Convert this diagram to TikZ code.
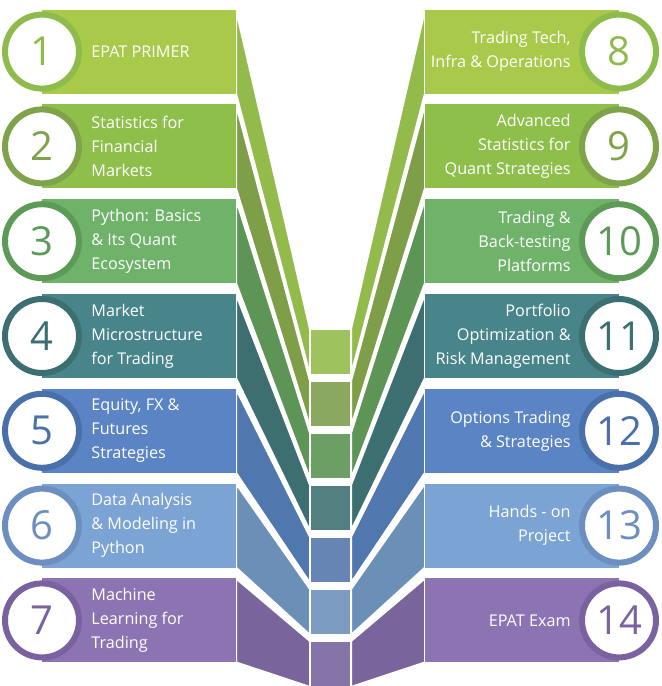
\documentclass[tikz,border=0pt]{standalone}
\usepackage{fontspec}
\setmainfont{Open Sans}
\definecolor{banA}{HTML}{A9C94A}\definecolor{rngA}{HTML}{8DBB4C}\definecolor{stpA}{HTML}{93BB4C}\definecolor{boxA}{HTML}{9DC25E}
\definecolor{banB}{HTML}{8FBF4B}\definecolor{rngB}{HTML}{7FA34A}\definecolor{stpB}{HTML}{7E9F48}\definecolor{boxB}{HTML}{8AA85F}
\definecolor{banC}{HTML}{6FB26A}\definecolor{rngC}{HTML}{5E9A57}\definecolor{stpC}{HTML}{5C9556}\definecolor{boxC}{HTML}{6B9F64}
\definecolor{banD}{HTML}{47858A}\definecolor{rngD}{HTML}{3C6F72}\definecolor{stpD}{HTML}{3D6E70}\definecolor{boxD}{HTML}{527F80}
\definecolor{banE}{HTML}{5A84C4}\definecolor{rngE}{HTML}{4A70AA}\definecolor{stpE}{HTML}{5077AE}\definecolor{boxE}{HTML}{6685B4}
\definecolor{banF}{HTML}{7BA3D4}\definecolor{rngF}{HTML}{6C8FBF}\definecolor{stpF}{HTML}{6C8FB8}\definecolor{boxF}{HTML}{7B9CC0}
\definecolor{banG}{HTML}{8C74B3}\definecolor{rngG}{HTML}{7A62A0}\definecolor{stpG}{HTML}{79649B}\definecolor{boxG}{HTML}{8574A8}

\begin{document}
\begin{tikzpicture}[x=0.5pt, y=-0.5pt,
    numring/.style={circle, fill=white, line width=3pt, minimum size=37pt, inner sep=0pt, font=\fontsize{20}{20}\selectfont},
    lbl/.style={text=white, font=\fontsize{8.1}{12}\selectfont, inner sep=0pt}]
  \useasboundingbox (0,0) rectangle (661,686);

  % strips and bottom boxes
  \foreach \i/\c in {7/G, 6/F, 5/E, 4/D, 3/C, 2/B, 1/A} {
    \pgfmathsetmacro\t{9.6+94.8*(\i-1)}
    \pgfmathsetmacro\b{\t+84}
    \pgfmathsetmacro\bt{329+52*(\i-1)}
    \pgfmathsetmacro\bb{\bt+46}
    \filldraw[fill=stp\c, draw=white, line width=1pt] (236,\t) -- (310,\bt) -- (310,\bb) -- (236,\b) -- cycle;
    \filldraw[fill=stp\c, draw=white, line width=1pt] (425,\t) -- (351,\bt) -- (351,\bb) -- (425,\b) -- cycle;
    \filldraw[fill=box\c, draw=white, line width=1pt] (310,\bt) rectangle (351,\bb);
  }

  % banners and number rings
  \foreach \i/\c in {1/A, 2/B, 3/C, 4/D, 5/E, 6/F, 7/G} {
    \pgfmathsetmacro\t{9.6+94.8*(\i-1)}
    \pgfmathsetmacro\m{\t+42}
    \fill[ban\c] (42,\t) rectangle (236,\t+84);
    \fill[ban\c] (425,\t) rectangle (619,\t+84);
    \node[numring, draw=rng\c, text=rng\c] (l\i) at (42,\m) {\i};
    \pgfmathtruncatemacro\r{\i+7}
    \node[numring, draw=rng\c, text=rng\c] (r\i) at (619,\m) {\r};
  }

  % left texts
  \node[lbl, anchor=west, align=left] (tl1) at (91,51.6) {EPAT PRIMER};
  \node[lbl, anchor=west, align=left] (tl2) at (91,146.4) {Statistics for\\Financial\\Markets};
  \node[lbl, anchor=west, align=left] (tl3) at (91,241.2) {Python: Basics\\\& Its Quant\\Ecosystem};
  \node[lbl, anchor=west, align=left] (tl4) at (91,336) {Market\\Microstructure\\for Trading};
  \node[lbl, anchor=west, align=left] (tl5) at (91,430.8) {Equity, FX \&\\Futures\\Strategies};
  \node[lbl, anchor=west, align=left] (tl6) at (91,525.6) {Data Analysis\\\& Modeling in\\Python};
  \node[lbl, anchor=west, align=left] (tl7) at (91,620.4) {Machine\\Learning for\\Trading};

  % right texts
  \node[lbl, anchor=east, align=right] (tr1) at (571,51.6) {Trading Tech,\\Infra \& Operations};
  \node[lbl, anchor=east, align=right] (tr2) at (571,146.4) {Advanced\\Statistics for\\Quant Strategies};
  \node[lbl, anchor=east, align=right] (tr3) at (571,241.2) {Trading \&\\Back-testing\\Platforms};
  \node[lbl, anchor=east, align=right] (tr4) at (571,336) {Portfolio\\Optimization \&\\Risk Management};
  \node[lbl, anchor=east, align=right] (tr5) at (571,430.8) {Options Trading\\\& Strategies};
  \node[lbl, anchor=east, align=right] (tr6) at (571,525.6) {Hands - on\\Project};
  \node[lbl, anchor=east, align=right] (tr7) at (571,620.4) {EPAT Exam};
\end{tikzpicture}
\end{document}
